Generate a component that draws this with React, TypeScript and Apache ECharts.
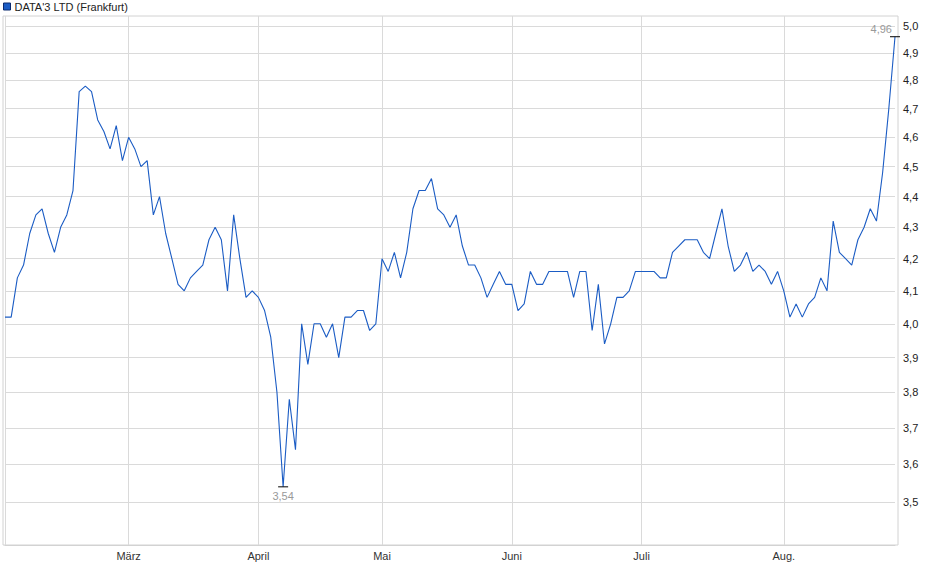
import { useEffect, useRef } from "react";
import * as echarts from "echarts";

const SERIES_NAME = "DATA'3 LTD (Frankfurt)";

// month labels on the x axis (first trading day of each month); Feb has no label
const monthLabels = ["", "März", "April", "Mai", "Juni", "Juli", "Aug."];
const tradingDays = [20, 21, 20, 21, 21, 23, 19];

// right-hand price axis (logarithmic)
const yTicks = [3.5, 3.6, 3.7, 3.8, 3.9, 4.0, 4.1, 4.2, 4.3, 4.4, 4.5, 4.6, 4.7, 4.8, 4.9, 5.0];

// daily closing prices, Feb .. Aug
const prices = [
  4.02, 4.02, 4.14, 4.18, 4.28, 4.34, 4.36, 4.28, 4.22, 4.30,
  4.34, 4.42, 4.76, 4.78, 4.76, 4.66, 4.62, 4.56, 4.64, 4.52,
  4.60, 4.56, 4.50, 4.52, 4.34, 4.40, 4.28, 4.20, 4.12, 4.10,
  4.14, 4.16, 4.18, 4.26, 4.30, 4.26, 4.10, 4.34, 4.20, 4.08,
  4.10, 4.08, 4.04, 3.96, 3.80, 3.54, 3.78, 3.64, 4.00, 3.88,
  4.00, 4.00, 3.96, 4.00, 3.90, 4.02, 4.02, 4.04, 4.04, 3.98,
  4.00, 4.20, 4.16, 4.22, 4.14, 4.22, 4.36, 4.42, 4.42, 4.46,
  4.36, 4.34, 4.30, 4.34, 4.24, 4.18, 4.18, 4.14, 4.08, 4.12,
  4.16, 4.12, 4.12, 4.04, 4.06, 4.16, 4.12, 4.12, 4.16, 4.16,
  4.16, 4.16, 4.08, 4.16, 4.16, 3.98, 4.12, 3.94, 4.00, 4.08,
  4.08, 4.10, 4.16, 4.16, 4.16, 4.16, 4.14, 4.14, 4.22, 4.24,
  4.26, 4.26, 4.26, 4.22, 4.20, 4.28, 4.36, 4.24, 4.16, 4.18,
  4.22, 4.16, 4.18, 4.16, 4.12, 4.16, 4.10, 4.02, 4.06, 4.02,
  4.06, 4.08, 4.14, 4.10, 4.32, 4.22, 4.20, 4.18, 4.26, 4.30,
  4.36, 4.32, 4.48, 4.70, 4.96,
];

const FONT = "'Liberation Sans', Arial, sans-serif";
const LINE_COLOR = "#1b5cc4";
const GRID_COLOR = "#dadada";

const fmt = (v: number, digits: number) => v.toFixed(digits).replace(".", ",");

export default function App() {
  const containerRef = useRef<HTMLDivElement>(null);

  useEffect(() => {
    if (!containerRef.current) return;
    const chart = echarts.init(containerRef.current, null, { renderer: "svg" });

    // one category per trading day; remember where each month starts
    const categories: string[] = [];
    const labelAt: Record<number, string> = {};
    monthLabels.forEach((m, mi) => {
      for (let d = 0; d < tradingDays[mi]; d++) {
        if (d === 0) labelAt[categories.length] = m;
        categories.push(`${mi}-${d}`);
      }
    });
    const isMonthStart = (i: number) => i in labelAt;

    chart.setOption({
      animation: false,
      textStyle: { fontFamily: FONT },
      grid: { left: 5, right: 45, top: 16, bottom: 34 },
      legend: {
        left: 3,
        top: 1,
        padding: 0,
        icon: "rect",
        itemWidth: 7,
        itemHeight: 7,
        itemGap: 4,
        selectedMode: false,
        textStyle: { fontFamily: FONT, fontSize: 11, color: "#222", padding: [0, 0, 0, -1] },
        itemStyle: { color: LINE_COLOR, borderColor: "#0b2a6e", borderWidth: 1 },
        data: [SERIES_NAME],
      },
      graphic: [
        {
          type: "rect",
          silent: true,
          z: 0,
          shape: { x: 3, y: 16, width: 895, height: 529 },
          style: { fill: "none", stroke: "#d2d2d2", lineWidth: 1 },
        },
      ],
      xAxis: {
        type: "category",
        data: categories,
        boundaryGap: false,
        axisLine: { show: true, lineStyle: { color: "#d2d2d2" } },
        axisTick: { show: false },
        axisLabel: {
          interval: (i: number) => isMonthStart(i),
          formatter: (_v: string, i: number) => labelAt[i] ?? "",
          color: "#333",
          fontSize: 11,
          fontFamily: FONT,
          margin: 5,
        },
        splitLine: {
          show: true,
          interval: (i: number) => isMonthStart(i),
          lineStyle: { color: GRID_COLOR, width: 1 },
        },
      },
      yAxis: {
        type: "log",
        logBase: 10,
        position: "right",
        min: 3.389,
        max: 5.0376,
        axisLine: { show: false },
        axisTick: { show: false, customValues: yTicks },
        axisLabel: {
          customValues: yTicks,
          formatter: (v: number) => fmt(v, 1),
          color: "#222",
          fontSize: 11,
          fontFamily: FONT,
          margin: 8,
        },
        splitLine: { show: true, lineStyle: { color: GRID_COLOR, width: 1 } },
      },
      series: [
        {
          name: SERIES_NAME,
          type: "line",
          data: prices,
          symbol: "none",
          showSymbol: false,
          lineStyle: { color: LINE_COLOR, width: 1.1 },
          itemStyle: { color: LINE_COLOR },
          emphasis: { disabled: true },
          markPoint: {
            silent: true,
            symbol: "rect",
            symbolSize: [10, 1],
            itemStyle: { color: "#000" },
            data: [
              {
                type: "min",
                label: {
                  show: true,
                  position: "bottom",
                  distance: 3,
                  color: "#999",
                  fontSize: 11,
                  fontFamily: FONT,
                  backgroundColor: "#fff",
                  padding: [0, 2],
                  formatter: (p: { value: number }) => fmt(p.value, 2),
                },
              },
              {
                type: "max",
                label: {
                  show: true,
                  position: "left",
                  distance: 0,
                  offset: [2, -8],
                  color: "#999",
                  fontSize: 11,
                  fontFamily: FONT,
                  formatter: (p: { value: number }) => fmt(p.value, 2),
                },
              },
            ],
          },
        },
      ],
    });

    return () => chart.dispose();
  }, []);

  return (
    <div
      ref={containerRef}
      style={{ position: "fixed", left: 0, top: 0, width: 940, height: 579, background: "#fff" }}
    />
  );
}
